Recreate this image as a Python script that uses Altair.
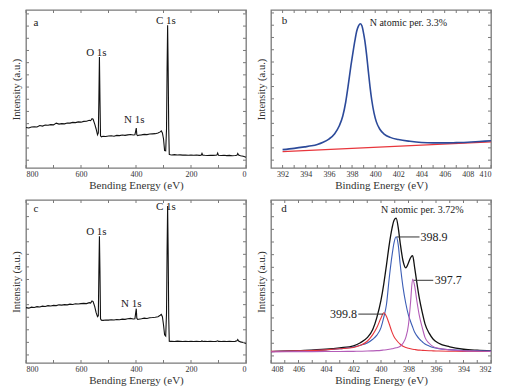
import altair as alt
import pandas as pd

FONT = "Liberation Serif"
FRAME = "#7a7a7a"
TXT = "#222222"

# ---------------- survey spectra (panels a and c) ----------------
surv_E = [800, 790, 780, 770, 760, 750, 740, 730, 720, 710, 700, 690, 680, 670, 660, 650, 640, 630,
          620, 610, 600, 590, 580, 570, 565, 560, 556, 550, 545, 540, 537, 535, 533, 531, 529, 526,
          520, 510, 500, 490, 480, 470, 460, 450, 440, 430, 420, 410, 404, 401, 399, 397, 394, 390,
          380, 370, 360, 350, 340, 330, 320, 312, 308, 304, 300, 296, 292, 289, 287, 285, 283, 281,
          279, 275, 270, 260, 250, 240, 230, 220, 210, 200, 190, 180, 170, 163, 160, 157, 150, 140,
          130, 120, 110, 106, 103, 100, 90, 80, 70, 60, 50, 40, 33, 30, 27, 20, 10, 5, 0]
a_I = [41.5, 41.0, 42.0, 42.3, 42.0, 43.5, 43.0, 44.0, 43.8, 44.5, 44.2, 46.0, 45.0, 45.5, 45.3, 46.2,
       46.0, 46.8, 46.5, 47.3, 47.0, 47.8, 48.0, 49.0, 48.5, 50.5, 50.0, 45.0, 40.0, 34.0, 36.0, 70.0,
       113.7, 70.0, 33.0, 32.0, 32.5, 32.3, 32.8, 33.0, 32.6, 33.4, 33.2, 33.8, 33.5, 34.0, 34.3, 33.8,
       34.0, 38.0, 41.0, 34.0, 33.2, 33.6, 34.0, 34.5, 34.2, 34.8, 35.0, 35.2, 35.8, 37.0, 38.0, 36.0,
       30.0, 18.0, 17.7, 40.0, 100.0, 146.3, 100.0, 40.0, 14.0, 13.6, 13.4, 13.7, 13.3, 13.5, 13.2,
       13.4, 13.0, 13.2, 13.0, 13.3, 12.9, 13.1, 15.0, 13.2, 13.0, 12.8, 13.1, 12.9, 13.0, 13.2, 15.3,
       13.0, 12.8, 13.0, 12.7, 12.9, 12.6, 12.8, 13.0, 14.8, 13.2, 12.5, 12.0, 11.5, 11.0]
c_I = [55.0, 54.5, 55.5, 55.2, 56.0, 55.6, 56.5, 56.2, 57.0, 56.6, 57.3, 57.0, 57.8, 57.5, 58.0, 57.8,
       58.5, 58.2, 58.8, 58.6, 59.0, 59.3, 59.0, 60.0, 59.5, 61.6, 61.0, 56.0, 50.0, 46.0, 47.0, 90.0,
       126.0, 90.0, 44.0, 42.6, 42.4, 42.8, 42.6, 43.0, 42.7, 43.3, 43.0, 43.6, 43.4, 44.0, 44.3, 43.8,
       44.0, 50.0, 54.0, 44.5, 43.3, 43.5, 44.0, 44.6, 44.3, 45.0, 45.2, 45.5, 46.0, 47.5, 48.3, 46.0,
       38.0, 28.0, 26.7, 50.0, 110.0, 156.0, 110.0, 45.0, 21.7, 21.5, 21.6, 21.4, 21.7, 21.5, 21.3,
       21.6, 21.4, 21.5, 21.3, 21.6, 21.4, 21.5, 21.9, 21.4, 21.5, 21.3, 21.6, 21.4, 21.5, 21.6, 22.0,
       21.5, 21.3, 21.5, 21.4, 21.6, 21.3, 21.5, 22.0, 23.3, 21.8, 21.0, 20.3, 19.8, 19.3]

a_lab_t = ["a", "O 1s", "N 1s", "C 1s"]
a_lab_E = [764, 544, 406, 291]
a_lab_I = [149, 118, 49.3, 151]
c_lab_t = ["c", "O 1s", "N 1s", "C 1s"]
c_lab_E = [764, 544, 417, 291]
c_lab_I = [153, 130, 58.3, 155]

# ---------------- panel b ----------------
b_E = [392, 393, 393.9, 394.5, 395, 395.5, 396, 396.5, 396.9, 397.2, 397.45, 397.65, 397.9, 398.1,
       398.25, 398.4, 398.55, 398.7, 398.85, 399.0, 399.1, 399.25, 399.4, 399.55, 399.7, 399.9, 400.1,
       400.4, 400.8, 401.3, 402, 403, 404, 405, 406, 407, 408, 409, 410]
b_I = [18.7, 20.0, 21.5, 22.6, 24.0, 26.2, 29.5, 35.0, 43.0, 53.0, 67.0, 82.7, 104.0, 119.3, 130.0,
       139.3, 144.5, 147.0, 145.0, 137.0, 130.0, 116.0, 99.3, 83.0, 69.3, 56.0, 47.0, 39.5, 34.3, 31.2,
       29.0, 27.2, 26.0, 25.6, 25.6, 25.9, 26.3, 27.0, 27.7]
b_bg_E = [392, 410]
b_bg_I = [16.7, 26.7]
b_lab_t = ["b", "N atomic per. 3.3%"]
b_lab_E = [392.17, 402.87]
b_lab_I = [150, 147.7]

# ---------------- panel d ----------------
d_E = [408, 406, 404, 403, 402, 401.5, 401, 400.6, 400.3, 400, 399.8, 399.6, 399.4, 399.2, 399.05,
       398.9, 398.75, 398.6, 398.4, 398.2, 398.0, 397.85, 397.7, 397.55, 397.4, 397.2, 397.0, 396.8,
       396.5, 396.2, 395.8, 395, 394, 393, 392]
d_env = [11.3, 12.2, 13.6, 15.0, 17.0, 20.0, 25.0, 33.0, 45.0, 62.0, 78.0, 97.0, 117.0, 133.0, 141.0,
         143.0, 134.0, 118.0, 101.0, 94.0, 99.0, 104.0, 106.0, 94.0, 80.0, 63.0, 50.0, 38.7, 29.5, 23.5,
         19.5, 16.0, 13.6, 12.6, 12.0]
d_p399_8 = [11.5, 12.0, 13.0, 14.0, 15.3, 17.5, 21.5, 28.0, 35.0, 44.5, 49.7, 46.0, 38.5, 30.5, 26.0,
            23.0, 20.5, 18.5, 16.5, 15.3, 14.5, 14.0, 13.6, 13.3, 13.0, 12.7, 12.5, 12.3, 12.1, 12.0,
            11.8, 11.6, 11.5, 11.4, 11.3]
d_p398_9 = [11.3, 12.0, 13.0, 14.0, 15.8, 17.5, 19.8, 23.5, 27.5, 35.0, 45.0, 58.0, 84.0, 106.0, 119.0,
            124.7, 117.0, 97.0, 75.0, 59.0, 47.0, 41.0, 35.5, 30.3, 27.0, 23.5, 21.0, 18.7, 16.8, 15.3,
            14.2, 13.2, 12.4, 12.0, 11.8]
d_p397_7 = [11.0, 11.2, 11.3, 11.4, 11.5, 11.6, 11.8, 12.0, 12.2, 12.5, 12.8, 13.1, 13.5, 14.0, 14.5,
            15.0, 15.5, 16.5, 19.5, 25.0, 38.0, 60.0, 83.0, 76.0, 62.0, 46.0, 35.0, 25.3, 19.5, 16.2,
            14.5, 13.0, 12.0, 11.7, 11.5]
d_lab_t = ["d", "N atomic per. 3.72%"]
d_lab_E = [407.05, 397.0]
d_lab_I = [152, 151]
# peak annotations: text, text position, leader line from/to
ann_t = ["398.9", "397.7", "399.8"]
ann_E = [397.12, 396.1, 401.75]
ann_I = [124.5, 81.7, 48.3]
ann_l1 = [398.85, 397.62, 401.65]
ann_l2 = [397.2, 396.2, 399.82]

W = 220


class Panel:
    def __init__(self, xs, ys, xax, yax, W, H):
        self.xs, self.ys, self.xax, self.yax, self.W, self.H = xs, ys, xax, yax, W, H
        self.layers = []

    def X(self, f="E:Q"):
        return alt.X(f, scale=self.xs, axis=self.xax)

    def Y(self, f="I:Q"):
        return alt.Y(f, scale=self.ys, axis=self.yax)

    def line(self, E, I, color, width, interp="linear"):
        df = pd.DataFrame({"E": E, "I": I})
        self.layers.append(alt.Chart(df).mark_line(
            color=color, strokeWidth=width, interpolate=interp).encode(x=self.X(), y=self.Y()))

    def text(self, t, E, I, size, align="center"):
        df = pd.DataFrame({"t": t, "E": E, "I": I})
        self.layers.append(alt.Chart(df).mark_text(
            font=FONT, fontSize=size, color=TXT, align=align, baseline="middle").encode(
            x=self.X(), y=self.Y(), text="t:N"))

    def ticks(self, xt, yt, L=3):
        dx = pd.DataFrame({"E": xt})
        dy = pd.DataFrame({"I": yt})
        W, H = self.W, self.H
        for y1, y2 in [(H, H - L), (0, L)]:
            self.layers.append(alt.Chart(dx).mark_rule(color=FRAME, strokeWidth=1).encode(
                x=self.X(), y=alt.value(y1), y2=alt.value(y2)))
        for x1, x2 in [(0, L), (W - L, W)]:
            self.layers.append(alt.Chart(dy).mark_rule(color=FRAME, strokeWidth=1).encode(
                y=self.Y(), x=alt.value(x1), x2=alt.value(x2)))

    def chart(self):
        return alt.layer(*self.layers).properties(width=self.W, height=self.H)


def xaxis(values, title):
    return alt.Axis(values=values, title=title, labelFontSize=8, labelPadding=2,
                    titlePadding=1, format="d", labelFont=FONT, titleFont=FONT,
                    titleFontSize=11, titleFontWeight="normal",
                    labelColor="#333333", titleColor="#333333")


def yaxis():
    return alt.Axis(title="Intensity (a.u.)", labels=False, titlePadding=5,
                    titleFont=FONT, titleFontSize=10.5, titleFontWeight="normal",
                    titleColor="#333333")


def survey(I, lab_t, lab_E, lab_I, H, ymax):
    xs = alt.Scale(domain=[0, 800], reverse=True, nice=False, zero=False)
    ys = alt.Scale(domain=[0, ymax], nice=False)
    p = Panel(xs, ys, xaxis([800, 600, 400, 200, 0], "Bending Energy (eV)"), yaxis(), W, H)
    p.line(surv_E, I, "#111111", 1.1)
    p.ticks(list(range(0, 801, 100)), [8 + 12.5 * k for k in range(13)])
    p.text(lab_t, lab_E, lab_I, 11)
    return p.chart()


pa = survey(a_I, a_lab_t, a_lab_E, a_lab_I, 158, 162)
pc = survey(c_I, c_lab_t, c_lab_E, c_lab_I, 163, 162)

# panel b
pbp = Panel(alt.Scale(domain=[391, 410], nice=False, zero=False),
            alt.Scale(domain=[0, 161], nice=False),
            xaxis(list(range(392, 411, 2)), "Binding Energy (eV)"), yaxis(), W, 158)
pbp.line(b_bg_E, b_bg_I, "#e8363c", 1.2)
pbp.line(b_E, b_I, "#2c4a9a", 1.6, "monotone")
pbp.ticks(list(range(392, 411)), [8 + 12.5 * k for k in range(13)])
pbp.text(b_lab_t[:1], b_lab_E[:1], b_lab_I[:1], 11)
pbp.text(b_lab_t[1:], b_lab_E[1:], b_lab_I[1:], 10)
pb = pbp.chart()

# panel d
pdp = Panel(alt.Scale(domain=[392, 408], reverse=True, nice=False, zero=False),
            alt.Scale(domain=[0, 161], nice=False),
            xaxis(list(range(408, 391, -2)), "Binding Energy (eV)"), yaxis(), W, 163)
pdp.line(d_E, d_env, "#111111", 1.3, "monotone")
pdp.line(d_E, d_p398_9, "#3b5db5", 1.1, "monotone")
pdp.line(d_E, d_p399_8, "#e8363c", 1.1, "monotone")
pdp.line(d_E, d_p397_7, "#b35cb8", 1.1, "monotone")
pdp.ticks(list(range(392, 409)), [7 + 12.5 * k for k in range(13)])
ann_df = pd.DataFrame({"E": ann_l1, "E2": ann_l2, "I": ann_I})
pdp.layers.append(alt.Chart(ann_df).mark_rule(color="#333333", strokeWidth=1).encode(
    x=pdp.X(), x2="E2:Q", y=pdp.Y()))
pdp.text(ann_t[:2], ann_E[:2], ann_I[:2], 12, "left")
pdp.text(ann_t[2:], ann_E[2:], ann_I[2:], 12, "right")
pdp.text(d_lab_t[:1], d_lab_E[:1], d_lab_I[:1], 11)
pdp.text(d_lab_t[1:], d_lab_E[1:], d_lab_I[1:], 10)
pd_ = pdp.chart()

chart = alt.vconcat(
    alt.hconcat(pa, pb, spacing=6),
    alt.hconcat(pc, pd_, spacing=6),
    spacing=7,
).properties(
    padding={"left": 2, "top": 0, "right": 0, "bottom": 0}
).configure_view(
    stroke=FRAME, strokeWidth=1.3
).configure_axis(
    labelFont=FONT, titleFont=FONT, labelColor="#333333", titleColor="#333333",
    titleFontSize=11, titleFontWeight="normal", domain=False, ticks=False, grid=False
)

chart.save("out.html", embed_options={"renderer": "svg", "actions": False})
